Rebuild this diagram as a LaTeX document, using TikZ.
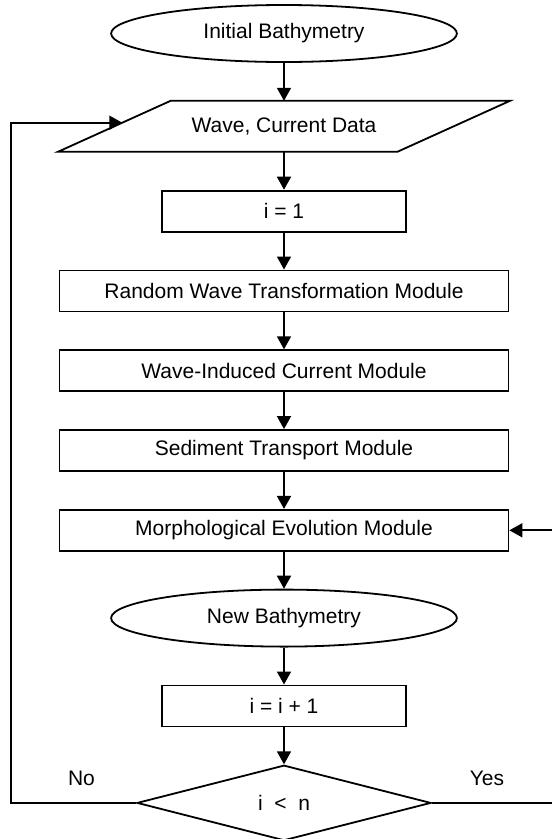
\documentclass[tikz,border=0pt]{standalone}
\usepackage{fontspec}
\setmainfont{Liberation Sans}
\usetikzlibrary{arrows.meta, positioning, shapes.geometric, calc}

\begin{document}
\begin{tikzpicture}[
  node distance=37pt,
  line width=1.8pt,
  font=\fontsize{21pt}{25pt}\selectfont,
  proc/.style={draw, rectangle, minimum height=41pt, inner sep=0pt},
  term/.style={draw, ellipse, minimum width=345.8pt, minimum height=57pt, inner sep=0pt},
  io/.style={rectangle, minimum width=339.4pt, minimum height=51pt, inner sep=0pt, outer sep=0pt},
  cond/.style={draw, diamond, minimum width=294pt, minimum height=75.4pt, inner sep=0pt},
  arr/.style={-{Triangle[length=13pt, width=14pt]}},
  lbl/.style={inner sep=0pt}
]
  \useasboundingbox (0,0) rectangle (552pt,-839pt);

  \node[term] (start) at (284pt,-33.5pt) {Initial Bathymetry};
  \node[io, below=37.9pt of start] (data) {Wave, Current Data};
  \draw ([xshift=56.35pt]data.north west) -- ([xshift=56.35pt]data.north east)
    -- ([xshift=-56.35pt]data.south east) -- ([xshift=-56.35pt]data.south west) -- cycle;
  \node[proc, minimum width=244pt, below=37.9pt of data] (init) {i = 1};
  \node[proc, minimum width=449pt, below=of init] (wavetr) {Random Wave Transformation Module};
  \node[proc, minimum width=449pt, below=of wavetr] (curr) {Wave-Induced Current Module};
  \node[proc, minimum width=449pt, below=of curr] (sedi) {Sediment Transport Module};
  \node[proc, minimum width=449pt, below=of sedi] (morph) {Morphological Evolution Module};
  \node[term, below=of morph] (newbat) {New Bathymetry};
  \node[proc, minimum width=244pt, below=of newbat] (incr) {i = i + 1};
  \node[cond, below=of incr] (test) {i~~<~~n};

  \node[lbl] (no) at (81.5pt,-778pt) {No};
  \node[lbl] (yes) at (487pt,-778pt) {Yes};

  % loop ends
  \coordinate (lft) at (10.6pt,-400pt);
  \coordinate (rgt) at (552pt,-400pt);
  \coordinate (datain) at ([xshift=7.96pt, yshift=3.6pt]data.west);

  \draw[arr] (start) -- (data);
  \draw[arr] (data) -- (init);
  \draw[arr] (init) -- (wavetr);
  \draw[arr] (wavetr) -- (curr);
  \draw[arr] (curr) -- (sedi);
  \draw[arr] (sedi) -- (morph);
  \draw[arr] (morph) -- (newbat);
  \draw[arr] (newbat) -- (incr);
  \draw[arr] (incr) -- (test);

  \draw[arr] (test.west) -| (lft) |- (datain);
  \draw (test.east) -- (test.east -| rgt);
  \draw[arr] (morph.east -| rgt) -- (morph);
\end{tikzpicture}
\end{document}
